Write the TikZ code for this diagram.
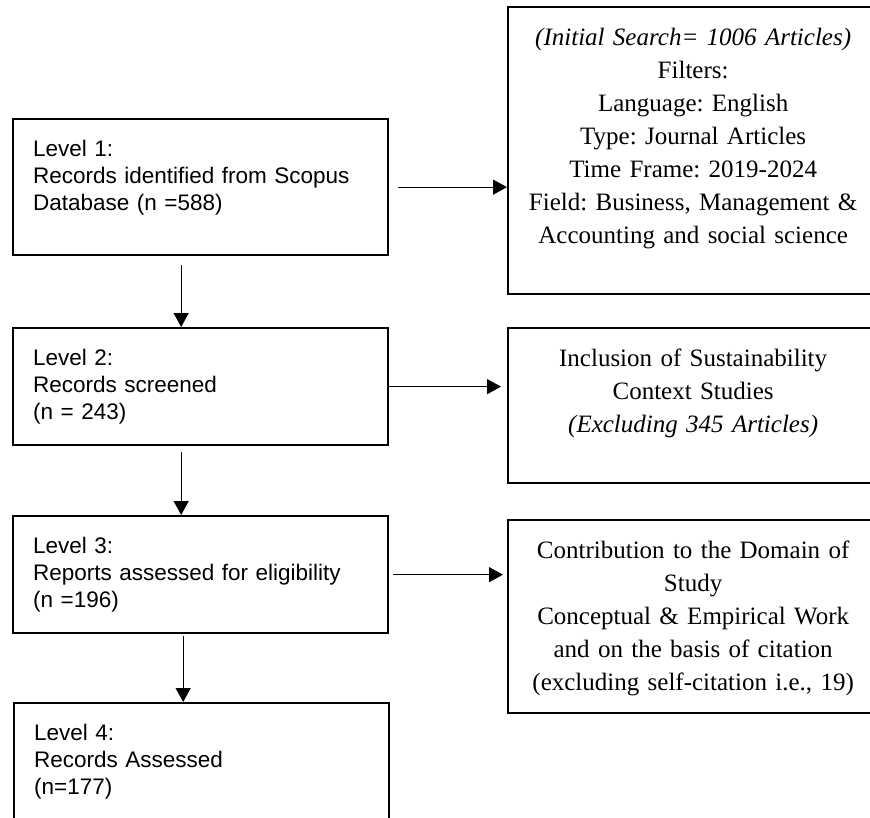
\documentclass[tikz,border=0pt]{standalone}
\usepackage{fontspec}
\usetikzlibrary{arrows.meta}
\newfontfamily\arialfont{Liberation Sans}
\newfontfamily\timesfont{Liberation Serif}
\frenchspacing

\tikzset{
  lbox/.style={draw, line width=2.3pt, anchor=north west, text width=335pt, align=left,
    inner xsep=20pt, inner ysep=10pt, text height=27pt,
    font=\arialfont\fontsize{22.5}{27}\selectfont},
  rbox/.style={draw, line width=2.3pt, anchor=north west, text width=360pt, align=center,
    inner xsep=5pt, inner ysep=10pt, text height=28pt,
    font=\timesfont\fontsize{25}{33}\selectfont},
  arr/.style={line width=1.2pt, -{Triangle[length=14pt,width=15pt]}}
}

\begin{document}
\begin{tikzpicture}[x=1pt, y=-1pt]
    \useasboundingbox (0,0) rectangle (870,817);
    \clip (0,0) rectangle (870,817);

    % levels
    \node[lbox, text depth=89pt] (lvl1) at (12,118) {Level 1:\\Records identified from Scopus\\Database (n =588)};
    \node[lbox, text depth=70pt] (lvl2) at (12,327) {Level 2:\\Records screened\\(n = 243)};
    \node[lbox, text depth=70pt] (lvl3) at (12,515) {Level 3:\\Reports assessed for eligibility\\(n =196)};
    \node[lbox, text depth=83pt] (lvl4) at (13,702) {Level 4:\\Records Assessed\\(n=177)};

    % filters
    \node[rbox, text depth=239pt] (res1) at (507,6) {\textit{(Initial Search= 1006 Articles)}\\Filters:\\Language: English\\Type: Journal Articles\\Time Frame: 2019-2024\\Field: Business, Management \&\\Accounting and social science};
    \node[rbox, text depth=107pt] (res2) at (507,327) {Inclusion of Sustainability\\Context Studies\\\textit{(Excluding 345 Articles)}};
    \node[rbox, text depth=145pt] (res3) at (507,519) {Contribution to the Domain of\\Study\\Conceptual \& Empirical Work\\and on the basis of citation\\(excluding self-citation i.e., 19)};

    \draw[arr] ([xshift=-19.5pt,yshift=-9pt]lvl1.south) -- ([xshift=-19.5pt]lvl2.north);
    \draw[arr] ([xshift=-19.5pt,yshift=-6pt]lvl2.south) -- ([xshift=-19.5pt]lvl3.north);
    \draw[arr] ([xshift=-17.5pt,yshift=-2pt]lvl3.south) -- ([xshift=-18.5pt]lvl4.north);

    \coordinate (tip1) at (lvl1.east -| res1.west);
    \coordinate (tip2) at (lvl2.east -| res2.west);
    \coordinate (tip3) at (lvl3.east -| res3.west);
    \draw[arr] ([xshift=9pt]lvl1.east) -- (tip1);
    \draw[arr] (lvl2.east) -- ([xshift=-6pt]tip2);
    \draw[arr] ([xshift=4pt]lvl3.east) -- ([xshift=-4pt]tip3);
\end{tikzpicture}
\end{document}
